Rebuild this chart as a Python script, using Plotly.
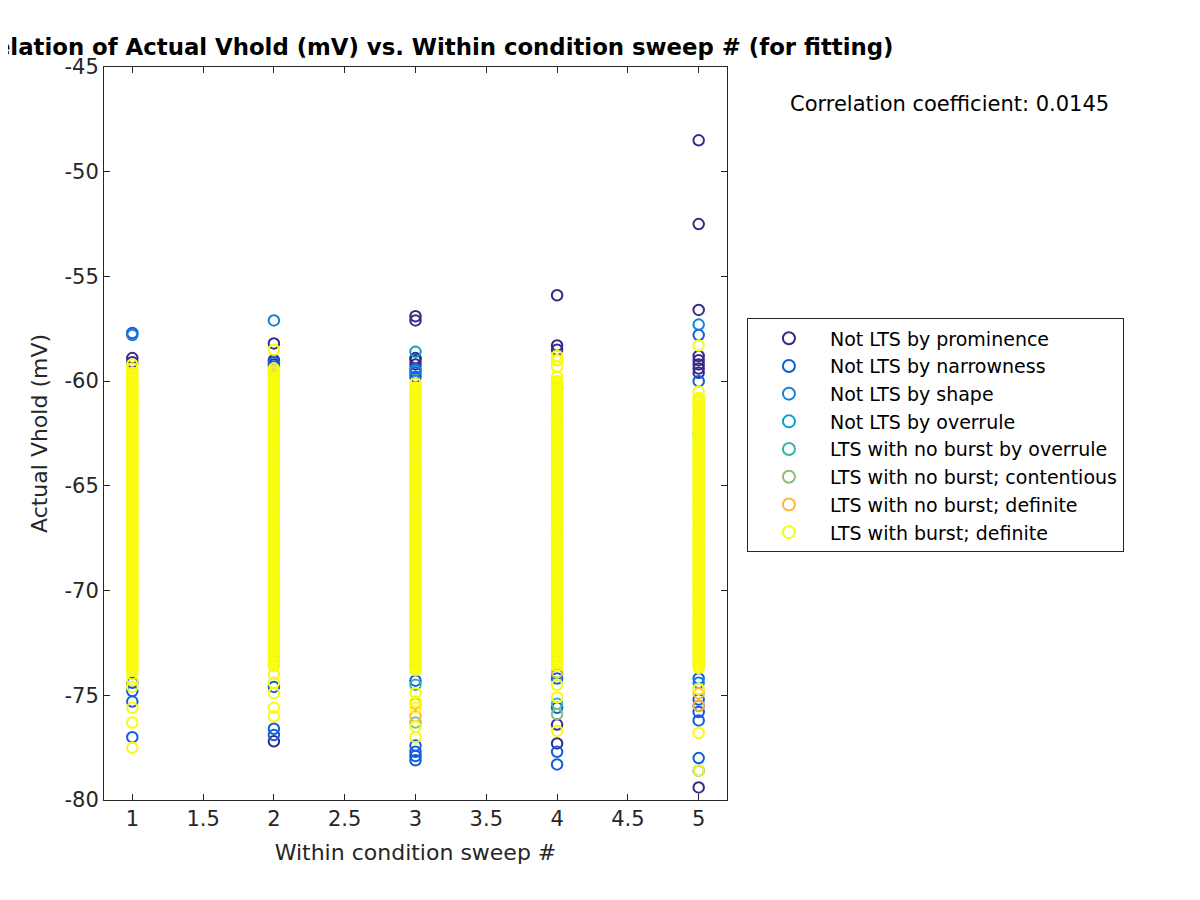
import plotly.graph_objects as go

sweeps = [1, 2, 3, 4, 5]

series_names = [
    "Not LTS by prominence",
    "Not LTS by narrowness",
    "Not LTS by shape",
    "Not LTS by overrule",
    "LTS with no burst by overrule",
    "LTS with no burst; contentious",
    "LTS with no burst; definite",
    "LTS with burst; definite",
]
series_colors = ["#352A87", "#0F5CDD", "#1481D6", "#06A4CA",
                 "#2EB7A4", "#87BF77", "#F9B93E", "#F9FB0E"]

# Actual Vhold (mV) per sweep (1..5) for each class
prominence_y = [
    [-58.9, -59.1],
    [-58.2, -59.0, -59.2, -77.2],
    [-56.9, -57.1, -58.9, -59.0, -59.2],
    [-55.9, -58.3, -58.5, -76.4, -77.3],
    [-48.5, -52.5, -56.6, -58.8, -59.0, -59.2, -59.4, -59.6, -75.5, -79.4],
]
narrowness_y = [
    [-57.7, -74.4, -74.8, -75.3, -77.0],
    [-59.1, -59.3, -74.6, -76.6, -76.9],
    [-59.4, -59.6, -59.8, -74.3, -77.4, -77.7, -77.9, -78.1],
    [-60.3, -74.2, -75.6, -77.7, -78.3],
    [-57.8, -60.0, -74.2, -75.2, -75.8, -76.2, -78.0, -78.6],
]
shape_y = [
    [-57.8],
    [-57.1],
    [-59.5],
    [-74.0],
    [-57.3, -74.4],
]
overrule_y = [
    [],
    [],
    [-58.6],
    [],
    [-62.5],
]
noburst_overrule_y = [
    [],
    [],
    [-74.5],
    [-75.4],
    [],
]
contentious_y = [
    [],
    [],
    [-76.3],
    [-75.9],
    [],
]
noburst_definite_y = [
    [-60.9],
    [],
    [-75.4, -76.0],
    [-59.0, -73.9],
    [-74.9, -75.5],
]
burst_y = [
    [-59.2, -59.4, -59.6, -59.7, -59.8, -59.9,
     -60.0, -60.1, -60.2, -60.3, -60.4, -60.5, -60.6, -60.7, -60.8, -60.9,
     -61.0, -61.1, -61.2, -61.3, -61.4, -61.5, -61.6, -61.7, -61.8, -61.9,
     -62.0, -62.1, -62.2, -62.3, -62.4, -62.5, -62.6, -62.7, -62.8, -62.9,
     -63.0, -63.1, -63.2, -63.3, -63.4, -63.5, -63.6, -63.7, -63.8, -63.9,
     -64.0, -64.1, -64.2, -64.3, -64.4, -64.5, -64.6, -64.7, -64.8, -64.9,
     -65.0, -65.1, -65.2, -65.3, -65.4, -65.5, -65.6, -65.7, -65.8, -65.9,
     -66.0, -66.1, -66.2, -66.3, -66.4, -66.5, -66.6, -66.7, -66.8, -66.9,
     -67.0, -67.1, -67.2, -67.3, -67.4, -67.5, -67.6, -67.7, -67.8, -67.9,
     -68.0, -68.1, -68.2, -68.3, -68.4, -68.5, -68.6, -68.7, -68.8, -68.9,
     -69.0, -69.1, -69.2, -69.3, -69.4, -69.5, -69.6, -69.7, -69.8, -69.9,
     -70.0, -70.1, -70.2, -70.3, -70.4, -70.5, -70.6, -70.7, -70.8, -70.9,
     -71.0, -71.1, -71.2, -71.3, -71.4, -71.5, -71.6, -71.7, -71.8, -71.9,
     -72.0, -72.1, -72.2, -72.3, -72.4, -72.5, -72.6, -72.7, -72.8, -72.9,
     -73.0, -73.1, -73.2, -73.3, -73.4, -73.5, -73.6, -73.7, -73.8, -74.0,
     -74.3, -74.6, -75.6, -76.3, -77.5],
    [-58.5, -59.4, -59.5, -59.6, -59.7, -59.8, -59.9,
     -60.0, -60.1, -60.2, -60.3, -60.4, -60.5, -60.6, -60.7, -60.8, -60.9,
     -61.0, -61.1, -61.2, -61.3, -61.4, -61.5, -61.6, -61.7, -61.8, -61.9,
     -62.0, -62.1, -62.2, -62.3, -62.4, -62.5, -62.6, -62.7, -62.8, -62.9,
     -63.0, -63.1, -63.2, -63.3, -63.4, -63.5, -63.6, -63.7, -63.8, -63.9,
     -64.0, -64.1, -64.2, -64.3, -64.4, -64.5, -64.6, -64.7, -64.8, -64.9,
     -65.0, -65.1, -65.2, -65.3, -65.4, -65.5, -65.6, -65.7, -65.8, -65.9,
     -66.0, -66.1, -66.2, -66.3, -66.4, -66.5, -66.6, -66.7, -66.8, -66.9,
     -67.0, -67.1, -67.2, -67.3, -67.4, -67.5, -67.6, -67.7, -67.8, -67.9,
     -68.0, -68.1, -68.2, -68.3, -68.4, -68.5, -68.6, -68.7, -68.8, -68.9,
     -69.0, -69.1, -69.2, -69.3, -69.4, -69.5, -69.6, -69.7, -69.8, -69.9,
     -70.0, -70.1, -70.2, -70.3, -70.4, -70.5, -70.6, -70.7, -70.8, -70.9,
     -71.0, -71.1, -71.2, -71.3, -71.4, -71.5, -71.6, -71.7, -71.8, -71.9,
     -72.0, -72.1, -72.2, -72.3, -72.4, -72.5, -72.6, -72.7, -72.8, -72.9,
     -73.0, -73.1, -73.2, -73.3, -73.4, -73.5, -73.6, -74.0, -74.4, -74.9,
     -75.6, -76.0],
    [-60.1, -60.3, -60.4, -60.5, -60.6, -60.7, -60.8, -60.9,
     -61.0, -61.1, -61.2, -61.3, -61.4, -61.5, -61.6, -61.7, -61.8, -61.9,
     -62.0, -62.1, -62.2, -62.3, -62.4, -62.5, -62.6, -62.7, -62.8, -62.9,
     -63.0, -63.1, -63.2, -63.3, -63.4, -63.5, -63.6, -63.7, -63.8, -63.9,
     -64.0, -64.1, -64.2, -64.3, -64.4, -64.5, -64.6, -64.7, -64.8, -64.9,
     -65.0, -65.1, -65.2, -65.3, -65.4, -65.5, -65.6, -65.7, -65.8, -65.9,
     -66.0, -66.1, -66.2, -66.3, -66.4, -66.5, -66.6, -66.7, -66.8, -66.9,
     -67.0, -67.1, -67.2, -67.3, -67.4, -67.5, -67.6, -67.7, -67.8, -67.9,
     -68.0, -68.1, -68.2, -68.3, -68.4, -68.5, -68.6, -68.7, -68.8, -68.9,
     -69.0, -69.1, -69.2, -69.3, -69.4, -69.5, -69.6, -69.7, -69.8, -69.9,
     -70.0, -70.1, -70.2, -70.3, -70.4, -70.5, -70.6, -70.7, -70.8, -70.9,
     -71.0, -71.1, -71.2, -71.3, -71.4, -71.5, -71.6, -71.7, -71.8, -71.9,
     -72.0, -72.1, -72.2, -72.3, -72.4, -72.5, -72.6, -72.7, -72.8, -72.9,
     -73.0, -73.1, -73.2, -73.3, -73.4, -73.5, -73.6, -73.7, -73.8, -74.9,
     -75.3, -75.6, -76.5, -77.0],
    [-58.8, -59.0, -59.3, -59.8, -60.0, -60.1, -60.2, -60.3, -60.4, -60.5,
     -60.6, -60.7, -60.8, -60.9,
     -61.0, -61.1, -61.2, -61.3, -61.4, -61.5, -61.6, -61.7, -61.8, -61.9,
     -62.0, -62.1, -62.2, -62.3, -62.4, -62.5, -62.6, -62.7, -62.8, -62.9,
     -63.0, -63.1, -63.2, -63.3, -63.4, -63.5, -63.6, -63.7, -63.8, -63.9,
     -64.0, -64.1, -64.2, -64.3, -64.4, -64.5, -64.6, -64.7, -64.8, -64.9,
     -65.0, -65.1, -65.2, -65.3, -65.4, -65.5, -65.6, -65.7, -65.8, -65.9,
     -66.0, -66.1, -66.2, -66.3, -66.4, -66.5, -66.6, -66.7, -66.8, -66.9,
     -67.0, -67.1, -67.2, -67.3, -67.4, -67.5, -67.6, -67.7, -67.8, -67.9,
     -68.0, -68.1, -68.2, -68.3, -68.4, -68.5, -68.6, -68.7, -68.8, -68.9,
     -69.0, -69.1, -69.2, -69.3, -69.4, -69.5, -69.6, -69.7, -69.8, -69.9,
     -70.0, -70.1, -70.2, -70.3, -70.4, -70.5, -70.6, -70.7, -70.8, -70.9,
     -71.0, -71.1, -71.2, -71.3, -71.4, -71.5, -71.6, -71.7, -71.8, -71.9,
     -72.0, -72.1, -72.2, -72.3, -72.4, -72.5, -72.6, -72.7, -72.8, -72.9,
     -73.0, -73.1, -73.2, -73.3, -73.4, -73.5, -73.6, -74.5, -75.1, -76.7],
    [-58.3, -60.5, -60.8, -60.9,
     -61.0, -61.1, -61.2, -61.3, -61.4, -61.5, -61.6, -61.7, -61.8, -61.9,
     -62.0, -62.1, -62.2, -62.3, -62.4, -62.5, -62.6, -62.7, -62.8, -62.9,
     -63.0, -63.1, -63.2, -63.3, -63.4, -63.5, -63.6, -63.7, -63.8, -63.9,
     -64.0, -64.1, -64.2, -64.3, -64.4, -64.5, -64.6, -64.7, -64.8, -64.9,
     -65.0, -65.1, -65.2, -65.3, -65.4, -65.5, -65.6, -65.7, -65.8, -65.9,
     -66.0, -66.1, -66.2, -66.3, -66.4, -66.5, -66.6, -66.7, -66.8, -66.9,
     -67.0, -67.1, -67.2, -67.3, -67.4, -67.5, -67.6, -67.7, -67.8, -67.9,
     -68.0, -68.1, -68.2, -68.3, -68.4, -68.5, -68.6, -68.7, -68.8, -68.9,
     -69.0, -69.1, -69.2, -69.3, -69.4, -69.5, -69.6, -69.7, -69.8, -69.9,
     -70.0, -70.1, -70.2, -70.3, -70.4, -70.5, -70.6, -70.7, -70.8, -70.9,
     -71.0, -71.1, -71.2, -71.3, -71.4, -71.5, -71.6, -71.7, -71.8, -71.9,
     -72.0, -72.1, -72.2, -72.3, -72.4, -72.5, -72.6, -72.7, -72.8, -72.9,
     -73.0, -73.1, -73.2, -73.3, -73.4, -73.5, -73.6, -73.7, -74.7, -76.8,
     -78.6],
]

all_series_y = [prominence_y, narrowness_y, shape_y, overrule_y,
                noburst_overrule_y, contentious_y, noburst_definite_y, burst_y]

x_tick_vals = [1, 1.5, 2, 2.5, 3, 3.5, 4, 4.5, 5]
x_tick_text = ["1", "1.5", "2", "2.5", "3", "3.5", "4", "4.5", "5"]
y_tick_vals = [-80, -75, -70, -65, -60, -55, -50, -45]
y_tick_text = ["-80", "-75", "-70", "-65", "-60", "-55", "-50", "-45"]

correlation_text = "Correlation coefficient: 0.0145"
title_text = "Correlation of Actual Vhold (mV) vs. Within condition sweep # (for fitting)"

fig = go.Figure()
for name, color, ys in zip(series_names, series_colors, all_series_y):
    xs, yv = [], []
    for s, vals in zip(sweeps, ys):
        xs.extend([s] * len(vals))
        yv.extend(vals)
    fig.add_trace(go.Scatter(
        x=xs, y=yv, mode="markers", name=name,
        marker=dict(symbol="circle-open", size=10.5, color=color,
                    line=dict(width=2, color=color)),
    ))

axis_color = "#262626"
font_family = "DejaVu Sans"

fig.update_layout(
    width=1200, height=900,
    margin=dict(l=96, r=481, t=59, b=108, autoexpand=False),
    paper_bgcolor="white", plot_bgcolor="white",
    font=dict(family=font_family, color=axis_color, size=21),
    title=dict(text="<b>" + title_text + "</b>", x=0.502, xref="paper",
               xanchor="center", y=1 - 39 / 900, yref="container",
               yanchor="middle", font=dict(size=22.8, color="black", family=font_family)),
    showlegend=True,
    legend=dict(x=1.032, y=0.657, xanchor="left", yanchor="top",
                bordercolor=axis_color, borderwidth=1, bgcolor="white",
                font=dict(size=19, color="black", family=font_family),
                tracegroupgap=0, itemsizing="constant", itemwidth=72),
    annotations=[dict(text=correlation_text, xref="paper", yref="paper",
                      x=(788 - 104) / 623, y=(800 - 103) / 734,
                      xanchor="left", yanchor="middle", showarrow=False,
                      font=dict(size=21, color="black", family=font_family))],
)
fig.update_xaxes(
    range=[0.8, 5.2], tickvals=x_tick_vals, ticktext=x_tick_text,
    tickfont=dict(size=21, color=axis_color),
    showline=True, linecolor=axis_color, linewidth=1, mirror="ticks",
    ticks="inside", ticklen=6, tickcolor=axis_color, showgrid=False,
    zeroline=False, title=dict(text="Within condition sweep #", standoff=14,
                               font=dict(size=22, color=axis_color)),
)
fig.update_yaxes(
    range=[-80, -45], tickvals=y_tick_vals, ticktext=y_tick_text,
    tickfont=dict(size=21, color=axis_color),
    showline=True, linecolor=axis_color, linewidth=1, mirror="ticks",
    ticks="inside", ticklen=6, tickcolor=axis_color, showgrid=False,
    zeroline=False, title=dict(text="Actual Vhold (mV)", standoff=10,
                               font=dict(size=22, color=axis_color)),
)

fig.write_html("out.html")
